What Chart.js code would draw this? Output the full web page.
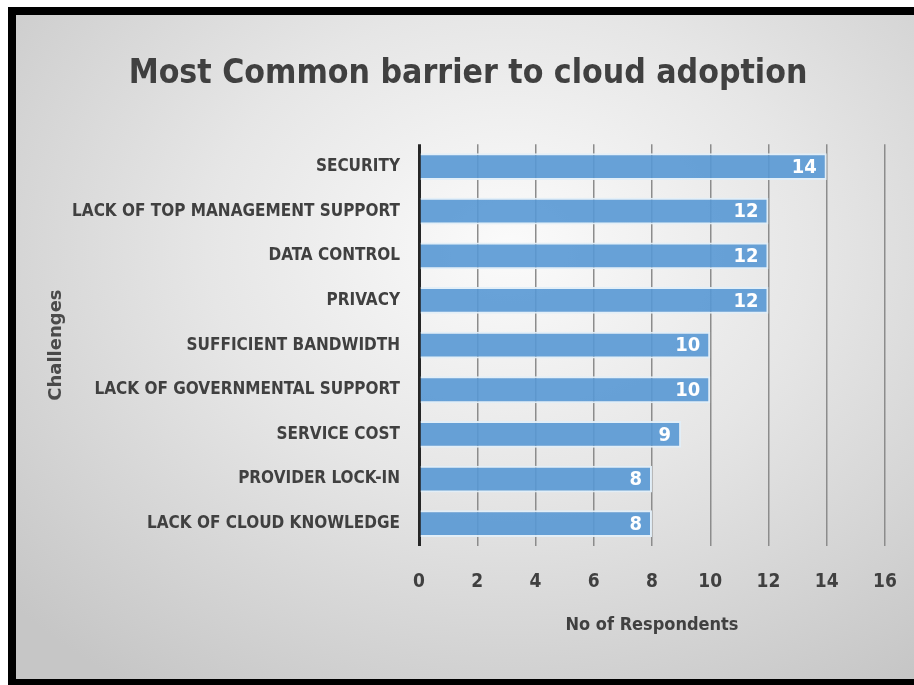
<!DOCTYPE html>
<html>
<head>
<meta charset="utf-8">
<script src="https://cdn.jsdelivr.net/npm/chart.js@4.4.1/dist/chart.umd.min.js"></script>
<style>
    html, body { margin: 0; padding: 0; background: #fff; overflow: hidden; }
    #frame {
        position: absolute;
        left: 8px;
        top: 7px;
        width: 898px;
        height: 664px;
        border: 8px solid #000;
        border-right: none;
        background: radial-gradient(ellipse 75% 80% at 55% 35%, #fbfbfb 0%, #e6e6e6 45%, #c6c6c6 100%);
    }
    #myChart { display: block; }
</style>
</head>
<body>
<div id="frame"><canvas id="myChart" width="898" height="664"></canvas></div>
<script>
const categories = [
    'SECURITY',
    'LACK OF TOP MANAGEMENT SUPPORT',
    'DATA CONTROL',
    'PRIVACY',
    'SUFFICIENT BANDWIDTH',
    'LACK OF GOVERNMENTAL SUPPORT',
    'SERVICE COST',
    'PROVIDER LOCK-IN',
    'LACK OF CLOUD KNOWLEDGE'
];
const respondents = [14, 12, 12, 12, 10, 10, 9, 8, 8];
const xTicks = [0, 2, 4, 6, 8, 10, 12, 14, 16];

const narrow = "'Liberation Sans Narrow', 'DejaVu Sans Condensed', sans-serif";
const textColor = '#404040';

// value labels inside the end of each bar
const barLabels = {
    id: 'barLabels',
    afterDatasetsDraw(chart) {
        const ctx = chart.ctx;
        const meta = chart.getDatasetMeta(0);
        ctx.save();
        ctx.fillStyle = '#ffffff';
        ctx.font = 'bold 20px ' + narrow;
        ctx.textAlign = 'right';
        ctx.textBaseline = 'middle';
        meta.data.forEach((bar, i) => {
            ctx.fillText(String(respondents[i]), bar.x - 10, bar.y + 1);
        });
        ctx.restore();
    }
};

const ctx = document.getElementById('myChart').getContext('2d');
new Chart(ctx, {
    type: 'bar',
    data: {
        labels: categories,
        datasets: [{
            data: respondents,
            backgroundColor: 'rgba(88, 152, 212, 0.9)',
            borderColor: 'rgba(225, 238, 248, 0.95)',
            borderWidth: 2,
            borderSkipped: 'left',
            barPercentage: 0.6,
            categoryPercentage: 1.0
        }]
    },
    options: {
        indexAxis: 'y',
        responsive: false,
        animation: false,
        layout: { padding: { left: 6, right: 0, top: 0, bottom: 0 } },
        plugins: {
            legend: { display: false },
            tooltip: { enabled: false },
            title: {
                display: true,
                text: 'Most Common barrier to cloud adoption',
                color: textColor,
                font: { family: narrow, size: 33.5, weight: 'bold' },
                padding: { top: 39, bottom: 50 }
            }
        },
        scales: {
            x: {
                min: 0,
                max: 16,
                afterBuildTicks(scale) {
                    scale.ticks = xTicks.map(v => ({ value: v }));
                },
                afterFit(scale) {
                    scale.height = 133;
                    scale.paddingLeft = 0;
                    scale.paddingRight = 29;
                },
                border: { display: false },
                grid: {
                    drawTicks: false,
                    color: c => c.tick && c.tick.value === 0 ? '#262626' : '#8c8c8c',
                    lineWidth: c => c.tick && c.tick.value === 0 ? 3 : 1.5
                },
                ticks: {
                    color: textColor,
                    padding: 25,
                    font: { family: narrow, size: 19, weight: 'bold' }
                },
                title: {
                    display: true,
                    text: 'No of Respondents',
                    color: textColor,
                    font: { family: narrow, size: 18, weight: 'bold' },
                    padding: { top: 0, bottom: 43 }
                }
            },
            y: {
                afterFit(scale) { scale.width = 397; },
                border: { display: false },
                grid: { display: false, drawTicks: false },
                ticks: {
                    color: textColor,
                    padding: 19,
                    font: { family: narrow, size: 17, weight: 'bold' }
                },
                title: {
                    display: true,
                    text: 'Challenges',
                    color: '#4a4a4a',
                    font: { family: "'DejaVu Sans', sans-serif", size: 18, weight: 'bold' },
                    padding: { top: 24, bottom: 0 }
                }
            }
        }
    },
    plugins: [barLabels]
});
</script>
</body>
</html>
